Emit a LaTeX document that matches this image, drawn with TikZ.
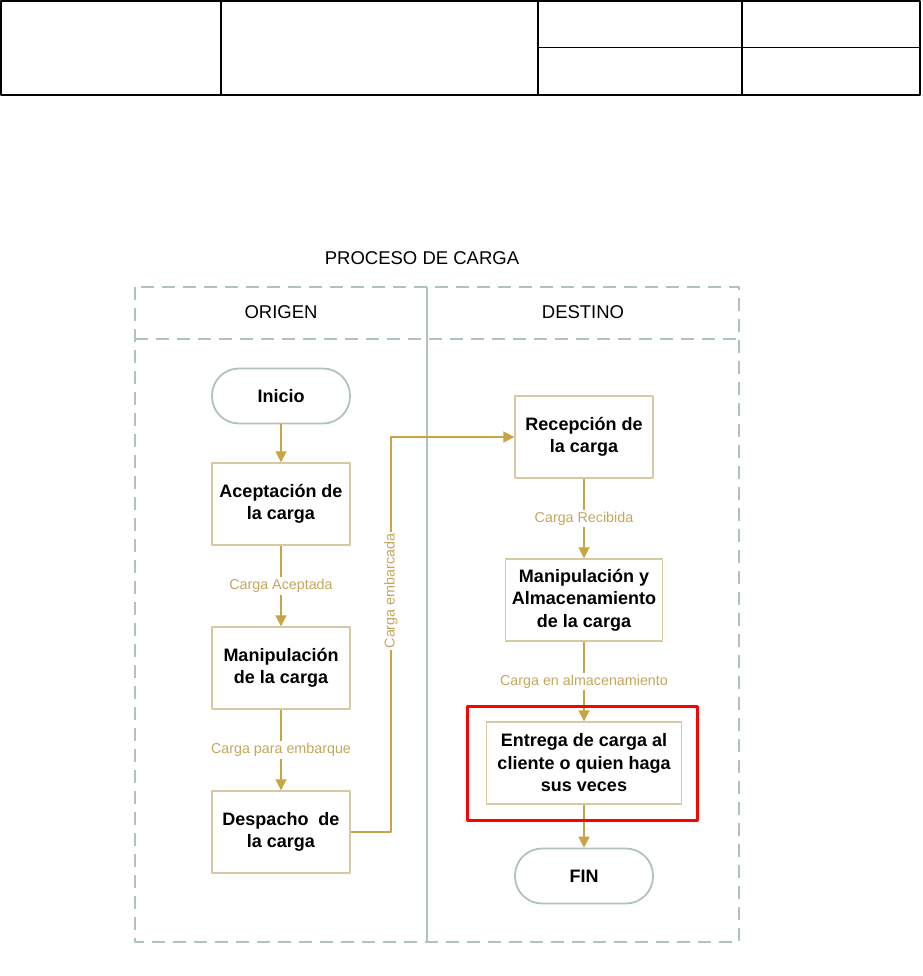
\documentclass[tikz,border=0pt]{standalone}
\usepackage{fontspec}
\setmainfont{Liberation Sans}
\usetikzlibrary{arrows.meta,positioning}

\definecolor{poolgray}{HTML}{AFC3BB}
\definecolor{boxtan}{HTML}{D6CAA4}
\definecolor{flowgold}{HTML}{C9A445}
\definecolor{labelgold}{HTML}{C6A65C}

\begin{document}
\begin{tikzpicture}[
    x=1pt,
    y=-1pt,
    >={Triangle[length=11pt,width=11pt]},
    line join=round,
    procbox/.style={draw=boxtan, line width=1.4pt, fill=white,
        minimum width=138pt, minimum height=82pt, align=center,
        font=\bfseries\fontsize{18}{22.5}\selectfont},
    termbox/.style={draw=poolgray, line width=1.8pt, fill=white,
        rounded corners=27pt, minimum width=138pt, minimum height=55pt,
        font=\bfseries\fontsize{18}{22.5}\selectfont},
    flow/.style={draw=flowgold, line width=1.8pt},
    flowlabel/.style={fill=white, text=labelgold, inner sep=2pt,
        font=\fontsize{14.3}{16}\selectfont},
    lanehead/.style={font=\fontsize{18.5}{20}\selectfont},
    pooldash/.style={draw=poolgray, line width=1.4pt, dash pattern=on 13pt off 8pt}
]

\useasboundingbox (0,0) rectangle (922,976);

%------------------------------------------------
% Header table
%------------------------------------------------
\draw[line width=1.5pt] (1,1) rectangle (920,95);
\draw[line width=1.5pt] (221,1) -- (221,95);
\draw[line width=1.5pt] (538,1) -- (538,95);
\draw[line width=1.5pt] (742,1) -- (742,95);
\draw[line width=1.5pt] (538,47.5) -- (920,47.5);

%------------------------------------------------
% Title
%------------------------------------------------
\node[lanehead] (titulo) at (422,258) {PROCESO DE CARGA};

%------------------------------------------------
% Pool with two lanes
%------------------------------------------------
\draw[pooldash] (135,287) rectangle (739,942);
\draw[pooldash] (135,339) -- (739,339);
\draw[draw=poolgray, line width=1.5pt] (427,287) -- (427,942);

\node[lanehead] (origen) at (281,312) {ORIGEN};
\node[lanehead] (destino) at (583,312) {DESTINO};

%------------------------------------------------
% Lane ORIGEN
%------------------------------------------------
\node[termbox] (inicio) at (281,396) {Inicio};
\node[procbox] (acept) at (281,504) {Aceptación de\\la carga};
\node[procbox] (manip) at (281,668) {Manipulación\\de la carga};
\node[procbox] (desp) at (281,832) {Despacho~ de\\la carga};

%------------------------------------------------
% Lane DESTINO
%------------------------------------------------
\node[procbox] (recep) at (584,437) {Recepción de\\la carga};
\node[procbox, minimum width=157pt] (almac) at (584,600)
    {Manipulación y\\Almacenamiento\\de la carga};
\node[procbox, minimum width=195pt] (entrega) at (584,763)
    {Entrega de carga al\\cliente o quien haga\\sus veces};
\node[termbox] (fin) at (584,876) {FIN};

%------------------------------------------------
% Connectors
%------------------------------------------------
\draw[flow,->] (inicio) -- (acept);
\draw[flow,->] (acept) -- node[flowlabel] {Carga Aceptada} (manip);
\draw[flow,->] (manip) -- node[flowlabel] {Carga para embarque} (desp);

\coordinate (bendlow) at (391,832);
\coordinate (bendhigh) at (391,437);
\draw[flow,->] (desp.east) -- (bendlow)
    -- node[flowlabel, rotate=90, pos=0.61] {Carga embarcada} (bendhigh)
    -- (recep.west);

\draw[flow,->] (recep) -- node[flowlabel] {Carga Recibida} (almac);
\draw[flow,->] (almac) -- node[flowlabel] {Carga en almacenamiento} (entrega);
\draw[flow,->] (entrega) -- (fin);

%------------------------------------------------
% Highlight
%------------------------------------------------
\draw[red, line width=3pt] (467,706) rectangle (697,820);

\end{tikzpicture}
\end{document}
